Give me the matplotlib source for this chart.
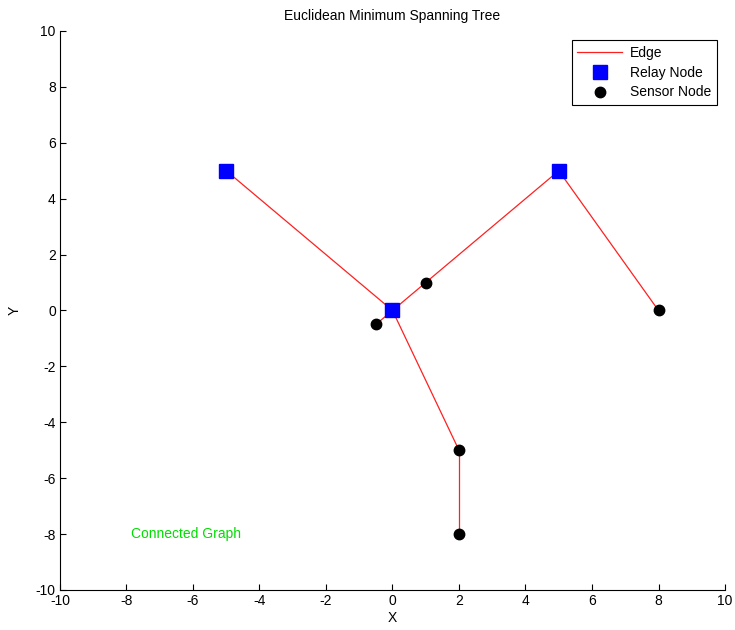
import matplotlib
matplotlib.use("Agg")
import matplotlib.pyplot as plt

# node coordinates
relay_x = [-5, 0, 5]
relay_y = [5, 0, 5]
sensor_x = [1, -0.5, 8, 2, 2]
sensor_y = [1, -0.5, 0, -5, -8]

# tree edges as (x1, y1, x2, y2)
edges = [
    (-5, 5, 0, 0),
    (0, 0, 1, 1),
    (1, 1, 5, 5),
    (5, 5, 8, 0),
    (0, 0, -0.5, -0.5),
    (0, 0, 2, -5),
    (2, -5, 2, -8),
]

plt.rcParams['font.family'] = ['Liberation Sans', 'DejaVu Sans']
plt.rcParams['font.size'] = 10
plt.rcParams['axes.unicode_minus'] = False

fig = plt.figure(figsize=(7.35, 6.3), dpi=100)
ax = fig.add_axes([0.0816, 0.0635, 0.9048, 0.8873])

for i, (x1, y1, x2, y2) in enumerate(edges):
    ax.plot([x1, x2], [y1, y2], color='#ff2020', linewidth=0.9,
            label='Edge' if i == 0 else None, zorder=1)

ax.plot(relay_x, relay_y, 's', color='blue', markersize=10,
        markeredgecolor='blue', linestyle='none', label='Relay Node', zorder=3)
ax.plot(sensor_x, sensor_y, 'o', color='black', markersize=7.5,
        linestyle='none', label='Sensor Node', zorder=3)

ax.text(-7.85, -8, 'Connected Graph', color='#00dd00', fontsize=10,
        va='center', ha='left')

ax.set_xlim(-10, 10)
ax.set_ylim(-10, 10)
ax.set_xticks(range(-10, 11, 2))
ax.set_yticks(range(-10, 11, 2))
ax.tick_params(direction='in', length=4, width=0.8, labelsize=10, pad=3)
ax.spines['top'].set_visible(False)
ax.spines['right'].set_visible(False)
ax.set_xlabel('X', fontsize=10, labelpad=2)
ax.set_ylabel('Y', fontsize=10, labelpad=10)
ax.set_title('Euclidean Minimum Spanning Tree', fontsize=10, pad=8)

leg = ax.legend(loc='upper right', fontsize=10, fancybox=False, framealpha=1,
                edgecolor='black', borderpad=0.4, labelspacing=0.42,
                handlelength=3.2, handletextpad=0.6,
                bbox_to_anchor=(0.9985, 0.996))
leg.get_frame().set_linewidth(0.8)

fig.savefig('out.png', dpi=100)
